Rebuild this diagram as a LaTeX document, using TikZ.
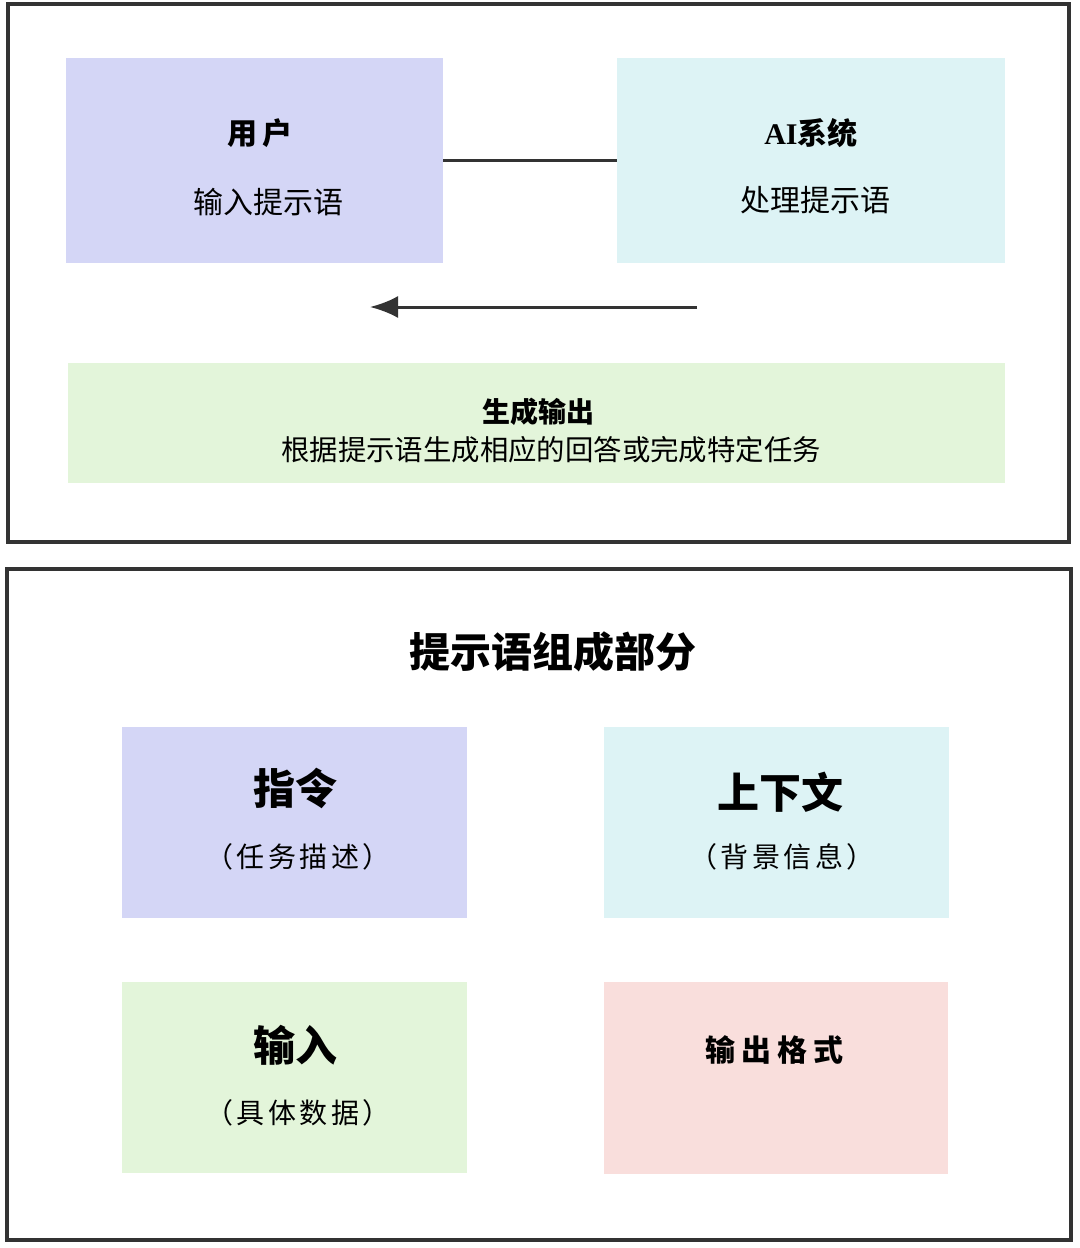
\documentclass[tikz,border=0pt]{standalone}
\usepackage{fontspec}
\setmainfont{Noto Sans CJK SC}
\newfontfamily\latserif{Liberation Serif}
\usetikzlibrary{arrows.meta}
\definecolor{lav}{HTML}{D4D6F6}
\definecolor{cya}{HTML}{DDF3F5}
\definecolor{grn}{HTML}{E3F5DA}
\definecolor{pnk}{HTML}{F9DEDC}
\definecolor{ink}{HTML}{333333}
\begin{document}
\begin{tikzpicture}[x=0.5pt,y=-0.5pt,
  panel/.style={draw=ink, line width=1.6pt},
  box/.style={draw=none, anchor=north west, inner sep=0pt, outer sep=0pt},
  lbl/.style={inner sep=0pt, text=black},
  paren/.style={lbl, font=\fontsize{14}{17}\selectfont\addfontfeature{LetterSpace=12}},
  conn/.style={draw=ink, line width=1.5pt}]
\useasboundingbox (0,0) rectangle (1080,1248);
\fill[white] (0,0) rectangle (1080,1248);
% panels
\draw[panel] (8,4) rectangle (1069,542);
\draw[panel] (7,569) rectangle (1071,1240);
% top boxes
\node[box, fill=lav, minimum width=188.5pt, minimum height=102.5pt] (user) at (66,58) {};
\node[box, fill=cya, minimum width=194pt, minimum height=102.5pt] (ai) at (617,58) {};
\node[box, fill=grn, minimum width=468.5pt, minimum height=60pt] (gen) at (68,363) {};
\node[lbl, font=\fontsize{15}{18}\selectfont\bfseries] (userT) at (260,133) {用\,户};
\node[lbl, font=\fontsize{15}{18}\selectfont] (userS) at (268,202) {输入提示语};
\node[lbl, font=\fontsize{15}{18}\selectfont\bfseries] (aiT) at (811,133) {{\latserif AI}系统};
\node[lbl, font=\fontsize{15}{18}\selectfont] (aiS) at (815,200) {处理提示语};
\node[lbl, font=\fontsize{14}{17}\selectfont\bfseries] (genT) at (538,412) {生成输出};
\node[lbl, font=\fontsize{14.2}{17}\selectfont] (genS) at (551,450) {根据提示语生成相应的回答或完成特定任务};
\draw[conn] (user.east) -- (ai.west);
\coordinate (a1) at (697,307);
\coordinate (a2) at (370,307);
\draw[conn, -{Latex[length=14pt, width=11pt]}] (a1) -- (a2);
% bottom panel
\node[lbl, font=\fontsize{20.5}{24}\selectfont\bfseries] (title) at (553,652) {提示语组成部分};
\node[box, fill=lav, minimum width=172.5pt, minimum height=95.5pt] (b1) at (122,727) {};
\node[box, fill=cya, minimum width=172.5pt, minimum height=95.5pt] (b2) at (604,727) {};
\node[box, fill=grn, minimum width=172.5pt, minimum height=95.5pt] (b3) at (122,982) {};
\node[box, fill=pnk, minimum width=172pt, minimum height=96pt] (b4) at (604,982) {};
\node[lbl, font=\fontsize{21}{25}\selectfont\bfseries] (b1T) at (295,788) {指令};
\node[paren] (b1S) at (298,857) {（任务描述）};
\node[lbl, font=\fontsize{21}{25}\selectfont\bfseries] (b2T) at (780,792) {上下文};
\node[paren] (b2S) at (782,857) {（背景信息）};
\node[lbl, font=\fontsize{21}{25}\selectfont\bfseries] (b3T) at (295,1045) {输入};
\node[paren] (b3S) at (298,1113) {（具体数据）};
\node[lbl, font=\fontsize{15}{18}\selectfont\bfseries\addfontfeature{LetterSpace=20}] (b4T) at (774,1050) {输出格式};
\end{tikzpicture}
\end{document}
